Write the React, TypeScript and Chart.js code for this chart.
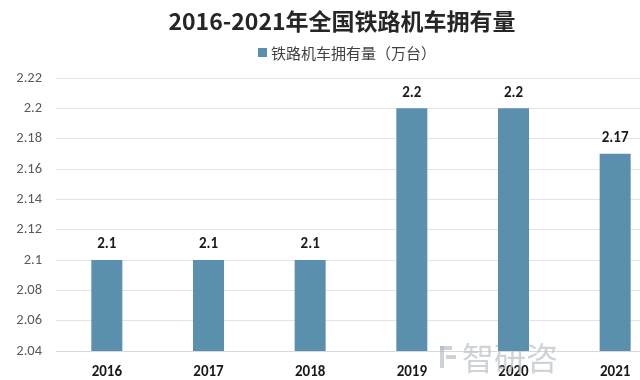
import React, { useEffect, useRef } from "react";
import { Chart, registerables } from "chart.js";

Chart.register(...registerables);

const TITLE = "2016-2021年全国铁路机车拥有量";
const SERIES_NAME = "铁路机车拥有量（万台）";
const YEARS = ["2016", "2017", "2018", "2019", "2020", "2021"];
const VALUES = [2.1, 2.1, 2.1, 2.2, 2.2, 2.17];
const Y_MIN = 2.04;
const Y_MAX = 2.22;
const Y_STEP = 0.02;
const WATERMARK = "智研咨";

const BAR_COLOR = "#5A8FAE";
const SANS = "Calibri, Carlito, 'Liberation Sans', 'Noto Sans CJK SC', sans-serif";
const CJK = "'Noto Sans CJK SC', sans-serif";

const headerAndLabels = {
  id: "headerAndLabels",
  beforeDatasetsDraw(chart: any) {
    const ctx = chart.ctx;
    ctx.save();
    ctx.font = `32px ${CJK}`;
    ctx.fillStyle = "rgba(190,196,202,0.75)";
    ctx.textAlign = "left";
    ctx.textBaseline = "middle";
    ctx.fillText(WATERMARK, 462, 358);
    ctx.fillStyle = "rgba(170,180,192,0.6)";
    ctx.fillRect(440, 346, 12, 4);
    ctx.fillRect(440, 346, 4, 22);
    ctx.fillRect(446, 355, 10, 4);
    ctx.restore();
  },
  afterDatasetsDraw(chart: any) {
    const ctx = chart.ctx;
    ctx.save();
    ctx.font = `bold 23px ${CJK}`;
    ctx.fillStyle = "#262626";
    ctx.textAlign = "center";
    ctx.textBaseline = "middle";
    ctx.fillText(TITLE, 342, 21);
    ctx.fillStyle = BAR_COLOR;
    ctx.fillRect(258, 48, 9, 9);
    ctx.font = `15px ${CJK}`;
    ctx.fillStyle = "#404040";
    ctx.textAlign = "left";
    ctx.fillText(SERIES_NAME, 271, 53);
    const meta = chart.getDatasetMeta(0);
    ctx.font = `bold 15px ${SANS}`;
    ctx.fillStyle = "#1a1a1a";
    ctx.textAlign = "center";
    ctx.textBaseline = "bottom";
    meta.data.forEach((bar: any, i: number) => {
      ctx.fillText(String(VALUES[i]), bar.x, bar.y - 8);
    });
    ctx.restore();
  },
};

export default function App() {
  const ref = useRef<HTMLCanvasElement>(null);
  useEffect(() => {
    if (!ref.current) return;
    const chart = new Chart(ref.current, {
      type: "bar",
      data: {
        labels: YEARS,
        datasets: [
          {
            label: SERIES_NAME,
            data: VALUES,
            backgroundColor: BAR_COLOR,
            barPercentage: 0.61,
            categoryPercentage: 0.5,
          },
        ],
      },
      options: {
        responsive: false,
        animation: false,
        layout: { padding: { left: 0, right: 14, top: 78, bottom: 0 } },
        plugins: {
          title: { display: false },
          legend: { display: false },
          tooltip: { enabled: false },
        },
        scales: {
          x: {
            grid: { display: false, drawTicks: false },
            border: { display: true, color: "#d9d9d9" },
            ticks: {
              color: "#1a1a1a",
              font: { family: SANS, size: 15, weight: "bold" },
              padding: 12,
            },
          },
          y: {
            min: Y_MIN,
            max: Y_MAX,
            grid: { color: "#e3e3e3", drawTicks: false },
            border: { display: false },
            afterFit: (scale: any) => {
              scale.width = 56;
            },
            ticks: {
              stepSize: Y_STEP,
              color: "#595959",
              font: { family: SANS, size: 14.5 },
              padding: 14,
              callback: (v: any) => String(parseFloat(Number(v).toFixed(2))),
            },
          },
        },
      },
      plugins: [headerAndLabels],
    });
    return () => chart.destroy();
  }, []);
  return (
    <div
      style={{
        position: "fixed",
        left: 0,
        top: 0,
        width: 640,
        height: 380,
        overflow: "hidden",
        background: "#fff",
      }}
    >
      <canvas ref={ref} width={680} height={393} style={{ display: "block" }} />
    </div>
  );
}
